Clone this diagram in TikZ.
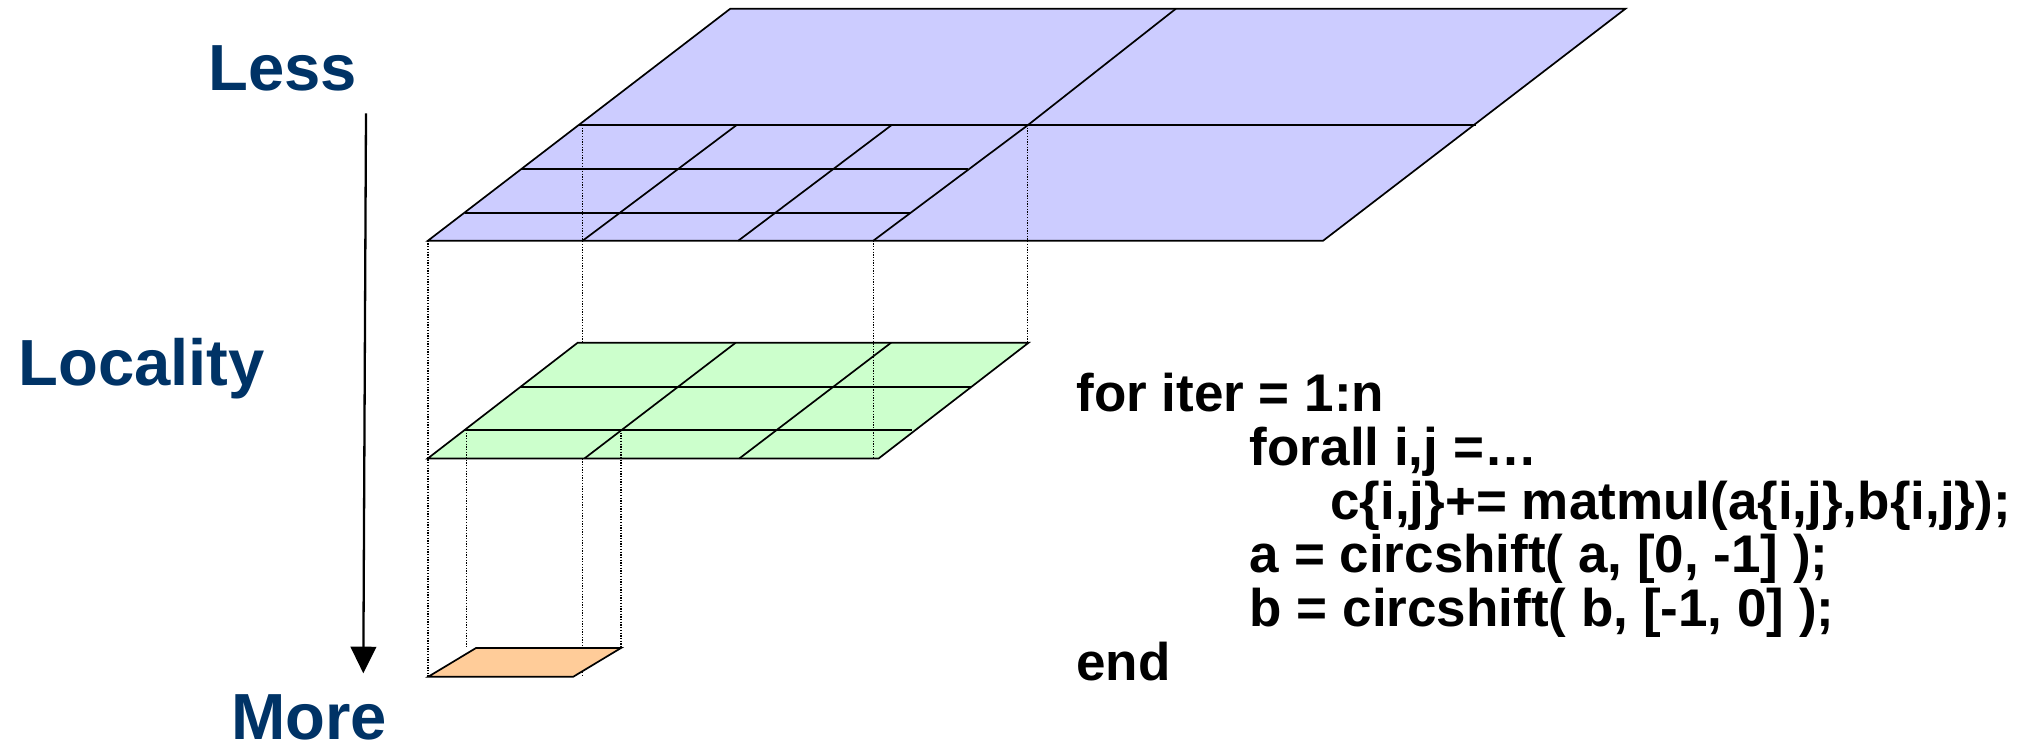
\documentclass[tikz,border=0pt]{standalone}
\usepackage{fontspec}
\setmainfont{Liberation Sans}
\usetikzlibrary{arrows.meta}
\definecolor{planeblue}{HTML}{CCCCFF}
\definecolor{planegreen}{HTML}{CCFFCC}
\definecolor{planeorange}{HTML}{FFCC99}
\definecolor{navy}{HTML}{003366}
\begin{document}
\begin{tikzpicture}[x=0.5pt,y=-0.5pt,
  plane/.style={draw=black,line width=0.85pt,line join=miter},
  gridline/.style={draw=black,line width=0.85pt},
  guide/.style={draw=black,line width=0.65pt,dash pattern=on 0.65pt off 0.7pt},
  axislabel/.style={font=\bfseries\fontsize{32.6}{38}\selectfont,text=navy,inner sep=0pt,anchor=base west},
  codeline/.style={font=\bfseries\fontsize{26.5}{27}\selectfont,inner sep=0pt,anchor=base west}]
\useasboundingbox (0,0) rectangle (2023,750);

% ---- top (blue) plane ----
\coordinate (B1) at (730.3,8.7);
\coordinate (B2) at (1625.5,8.7);
\coordinate (B3) at (1323.1,240.7);
\coordinate (B4) at (427.9,240.7);
\filldraw[plane,fill=planeblue] (B1) -- (B2) -- (B3) -- (B4) -- cycle;
\draw[gridline] (578.5,125) -- (1476,125);
\draw[gridline] (1175.9,8.7) -- (1028,125) -- (873.3,240.7);
\draw[gridline] (736.7,125) -- (582.7,240.7);
\draw[gridline] (891.7,125) -- (738.3,240.7);
\draw[gridline] (521,169) -- (968.3,169);
\draw[gridline] (465,212.7) -- (910,212.7);

% ---- middle (green) plane ----
\coordinate (G1) at (577.7,342.7);
\coordinate (G2) at (1028.6,342.7);
\coordinate (G3) at (878.6,458.5);
\coordinate (G4) at (427.7,458.5);
\filldraw[plane,fill=planegreen] (G1) -- (G2) -- (G3) -- (G4) -- cycle;
\draw[gridline] (735.7,342.7) -- (584.4,458.5);
\draw[gridline] (891.1,342.7) -- (739.3,458.5);
\draw[gridline] (520.7,386.7) -- (970.5,386.7);
\draw[gridline] (464.6,430) -- (912,430);

% ---- dotted guides ----
\draw[guide] (428,240.7) -- (428,676.7);
\draw[guide] (582.7,125) -- (582.7,342.7);
\draw[guide] (873.3,240.7) -- (873.3,458.5);
\draw[guide] (1027.5,125) -- (1027.5,342.7);
\draw[guide] (466.7,430) -- (466.7,648);
\draw[guide] (621,430) -- (621,648);
\draw[guide] (582.7,458.5) -- (582.7,676.7);

% ---- bottom (orange) plane ----
\coordinate (O1) at (476,648);
\coordinate (O2) at (621,648);
\coordinate (O3) at (573.3,676.7);
\coordinate (O4) at (428.3,676.7);
\filldraw[plane,fill=planeorange] (O1) -- (O2) -- (O3) -- (O4) -- cycle;

% ---- locality axis ----
\node[axislabel] (less) at (208,90) {Less};
\node[axislabel] (locality) at (18,385) {Locality};
\node[axislabel] (more) at (231,739) {More};
\coordinate (arrowtop) at (366,113.3);
\coordinate (arrowtip) at (363.3,673.3);
\draw[line width=1.15pt,-{Triangle[width=12.8pt,length=13.3pt]}] (arrowtop) -- (arrowtip);

% ---- code ----
\node[codeline] (l1) at (1076,411.7) {for iter = 1:n};
\node[codeline] (l2) at (1249.5,465.4) {forall i,j =…};
\node[codeline] (l3) at (1330,519) {c\{i,j\}+= matmul(a\{i,j\},b\{i,j\});};
\node[codeline] (l4) at (1249.5,572.8) {a = circshift( a, [0, -1] );};
\node[codeline] (l5) at (1249.5,626.5) {b = circshift( b, [-1, 0] );};
\node[codeline] (l6) at (1076,680) {end};
\end{tikzpicture}
\end{document}
